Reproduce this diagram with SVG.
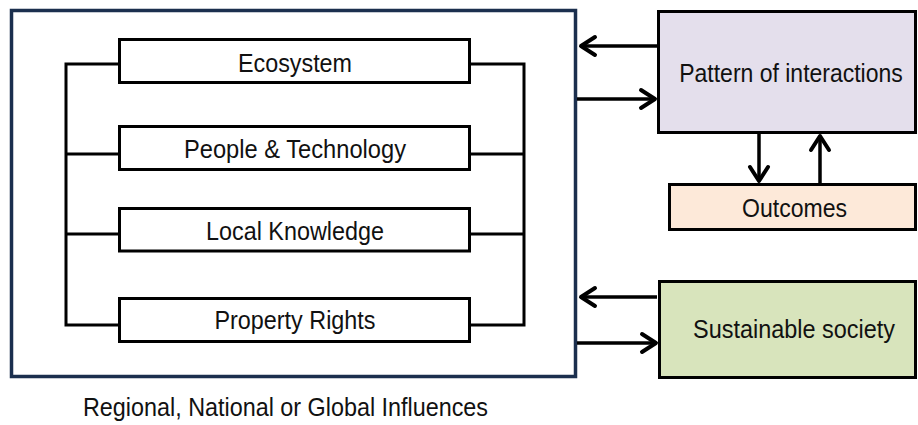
<svg xmlns="http://www.w3.org/2000/svg" width="918" height="425" viewBox="0 0 918 425">
<style>
text{font-family:"Liberation Sans",Arial,sans-serif;font-size:26px;fill:#111;text-anchor:middle}
.ib{fill:#fff;stroke:#000;stroke-width:3}
.ln{fill:none;stroke:#000;stroke-width:3}
.ar{fill:none;stroke:#000;stroke-width:3.5}
</style>
<defs>
<marker id="ah" viewBox="-17 -12 20 24" markerWidth="20" markerHeight="24" refX="0" refY="0" markerUnits="userSpaceOnUse" orient="auto">
<path d="M-14,-9 L0,0 L-14,9" fill="none" stroke="#000" stroke-width="4" stroke-linejoin="round" stroke-linecap="round"/>
</marker>
</defs>
<rect width="918" height="425" fill="#fff"/>
<g id="main">
<rect x="11.5" y="10.5" width="564" height="366" fill="#fff" stroke="#1b2f4e" stroke-width="3.5"/>
</g>
<g id="ecosystem">
<rect class="ib" x="119.5" y="39.5" width="350" height="43"/>
<text x="295" y="72" textLength="114" lengthAdjust="spacingAndGlyphs">Ecosystem</text>
</g>
<g id="people">
<rect class="ib" x="119.5" y="126.5" width="350" height="43"/>
<text x="295" y="158" textLength="222" lengthAdjust="spacingAndGlyphs">People &amp; Technology</text>
</g>
<g id="local">
<rect class="ib" x="119.5" y="208.5" width="350" height="42.5"/>
<text x="295" y="240" textLength="178" lengthAdjust="spacingAndGlyphs">Local Knowledge</text>
</g>
<g id="property">
<rect class="ib" x="119.5" y="298.5" width="350" height="43"/>
<text x="295" y="329" textLength="161" lengthAdjust="spacingAndGlyphs">Property Rights</text>
</g>
<g id="pattern">
<rect x="658.5" y="11.5" width="257" height="121" fill="#e4dfec" stroke="#000" stroke-width="3"/>
<text transform="translate(791,82) scale(1,1.1)" x="0" y="0" style="font-size:23px">Pattern of interactions</text>
</g>
<g id="outcomes">
<rect x="669.5" y="184.5" width="246" height="45" fill="#fde9d9" stroke="#000" stroke-width="3"/>
<text x="794.5" y="217" textLength="105" lengthAdjust="spacingAndGlyphs">Outcomes</text>
</g>
<g id="sustainable">
<rect x="659.5" y="281.5" width="256" height="96" fill="#d8e4bc" stroke="#000" stroke-width="3"/>
<text x="794" y="338" textLength="202" lengthAdjust="spacingAndGlyphs">Sustainable society</text>
</g>
<g id="caption">
<text x="285.5" y="416" textLength="405" lengthAdjust="spacingAndGlyphs">Regional, National or Global Influences</text>
</g>
<g id="connectors">
<path class="ln" d="M119.5,64 H66 V325 H119.5 M66,154 H119.5 M66,234 H119.5"/>
<path class="ln" d="M469.5,64 H524 V325 H469.5 M524,154 H469.5 M524,234 H469.5"/>
<line class="ar" x1="657" y1="46" x2="581" y2="46" marker-end="url(#ah)"/>
<line class="ar" x1="577" y1="99" x2="655" y2="99" marker-end="url(#ah)"/>
<line class="ar" x1="657" y1="297" x2="581" y2="297" marker-end="url(#ah)"/>
<line class="ar" x1="577" y1="343" x2="656" y2="343" marker-end="url(#ah)"/>
<line class="ar" x1="759" y1="134" x2="759" y2="181" marker-end="url(#ah)"/>
<line class="ar" x1="820" y1="183" x2="820" y2="136" marker-end="url(#ah)"/>
</g>
</svg>
